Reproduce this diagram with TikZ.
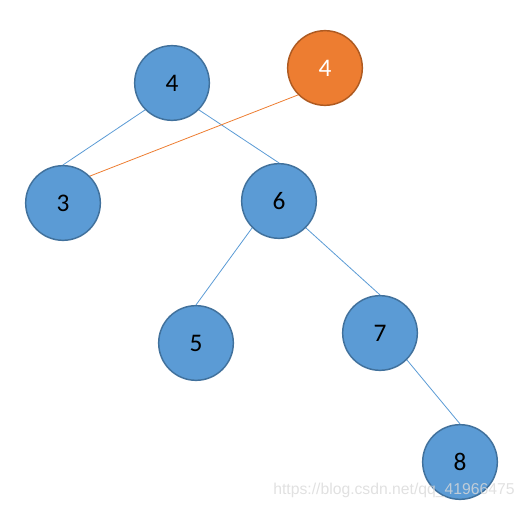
\documentclass[tikz,border=0pt]{standalone}
\usepackage{fontspec}
\setmainfont{Carlito}
\newfontfamily\markfont{Liberation Sans}
\definecolor{keyblue}{HTML}{5B9BD5}
\definecolor{keyline}{HTML}{41719C}
\definecolor{keyorange}{HTML}{ED7D31}
\definecolor{orangeline}{HTML}{AE5A21}

\begin{document}
\begin{tikzpicture}[x=0.75pt, y=-0.75pt,
        key/.style={circle, draw=keyline, fill=keyblue, line width=1.1pt, minimum size=56pt, inner sep=0pt, font=\fontsize{19}{22}\selectfont},
        newkey/.style={key, draw=orangeline, fill=keyorange, text=white},
        edge/.style={draw=keyblue, line width=0.6pt},
        newedge/.style={draw=keyorange, line width=0.6pt}]
        \useasboundingbox (0,0) rectangle (525,509);
        \node[key] (n4) at (172,83) {4};
        \node[newkey] (m4) at (325,68) {4};
        \node[key] (n3) at (63,203) {3};
        \node[key] (n6) at (279,201) {6};
        \node[key] (n5) at (196,343) {5};
        \node[key] (n7) at (380,333) {7};
        \node[key] (n8) at (460,462) {8};

        \draw[edge] (n4.225) -- (n3.north);
        \draw[edge] (n4.315) -- (n6.north);
        \draw[edge] (n6.225) -- (n5.north);
        \draw[edge] (n6.315) -- (n7.north);
        \draw[edge] (n7.315) -- (n8.north);
        \draw[newedge] (m4.225) -- (n3.45);

        \node[text=gray!30, opacity=0.8, font=\markfont\fontsize{11.8}{14}\selectfont] (mark) at (394,490) {https://blog.csdn.net/qq\_41966475};
    \end{tikzpicture}
\end{document}
